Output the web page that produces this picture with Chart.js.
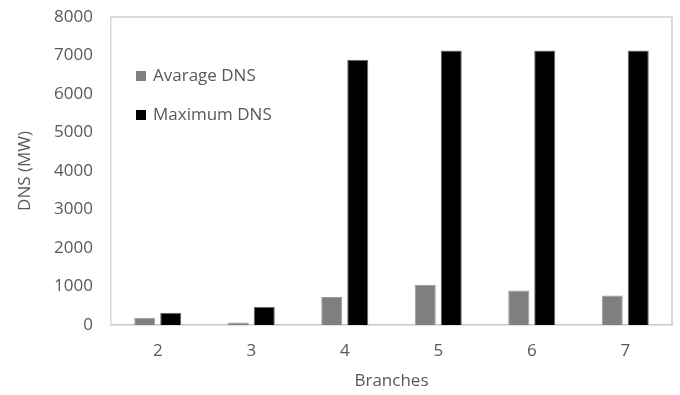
<!DOCTYPE html>
<html>
<head>
<meta charset="utf-8">
<script src="https://cdn.jsdelivr.net/npm/chart.js@4/dist/chart.umd.min.js"></script>
<style>
html,body{margin:0;padding:0;background:#fff;}
#wrap{width:680px;height:395px;position:relative;}
</style>
</head>
<body>
<div id="wrap"><canvas id="c" width="680" height="395"></canvas></div>
<script>
const categories = ['2', '3', '4', '5', '6', '7'];
const averageDNS = [190, 65, 730, 1045, 895, 765];
const maximumDNS = [315, 470, 6890, 7130, 7130, 7130];
const yTicks = [0, 1000, 2000, 3000, 4000, 5000, 6000, 7000, 8000];
const seriesNames = ['Avarage DNS', 'Maximum DNS'];

const FONT = "'Open Sans', 'Liberation Sans', sans-serif";
const TXT = '#595959';
const FS = 17;

const borderPlugin = {
  id: 'areaBorder',
  afterDraw(chart) {
    const a = chart.chartArea, ctx = chart.ctx;
    ctx.save();
    ctx.strokeStyle = '#d0d0d0';
    ctx.lineWidth = 1.5;
    ctx.beginPath();
    ctx.moveTo(a.left, a.top);
    ctx.lineTo(a.right, a.top);
    ctx.lineTo(a.right, a.bottom);
    ctx.stroke();
    ctx.restore();
  }
};

const legendPlugin = {
  id: 'innerLegend',
  afterDraw(chart) {
    const ctx = chart.ctx;
    ctx.save();
    ctx.font = FS + 'px ' + FONT;
    ctx.textBaseline = 'middle';
    chart.data.datasets.forEach((ds, i) => {
      const y = 76 + i * 39;
      ctx.fillStyle = ds.backgroundColor;
      ctx.fillRect(136, y - 5, 10, 10);
      ctx.fillStyle = TXT;
      ctx.fillText(ds.label, 153, y);
    });
    ctx.restore();
  }
};

new Chart(document.getElementById('c'), {
  type: 'bar',
  data: {
    labels: categories,
    datasets: [
      { label: seriesNames[0], data: averageDNS, backgroundColor: '#7f7f7f', borderColor: '#9a9a9a', borderWidth: 1 },
      { label: seriesNames[1], data: maximumDNS, backgroundColor: '#000000', borderColor: '#6a6a6a', borderWidth: 1 }
    ]
  },
  options: {
    responsive: false,
    animation: false,
    devicePixelRatio: 1,
    layout: { padding: { left: 0, right: 8, top: 17, bottom: 0 } },
    plugins: { legend: { display: false }, tooltip: { enabled: false } },
    datasets: { bar: { categoryPercentage: 0.556, barPercentage: 0.81 } },
    scales: {
      x: {
        grid: { display: false, drawTicks: false },
        border: { display: true, color: '#c8c8c8', width: 1.5 },
        ticks: { color: TXT, font: { family: FONT, size: FS }, padding: 16 },
        title: { display: true, text: 'Branches', color: TXT, font: { family: FONT, size: FS }, padding: { top: 8 } },
        afterFit(s) { s.height = 70; s.paddingLeft = 0; s.paddingRight = 0; }
      },
      y: {
        min: 0, max: 8000,
        afterBuildTicks(s) { s.ticks = yTicks.map(v => ({ value: v })); },
        grid: { display: false, drawTicks: false },
        border: { display: true, color: '#d9d9d9', width: 1.5 },
        ticks: { color: TXT, font: { family: FONT, size: FS }, padding: 18, callback: v => String(v) },
        title: { display: true, text: 'DNS (MW)', color: TXT, font: { family: FONT, size: FS }, padding: { top: 15, bottom: 4 } },
        afterFit(s) { s.width = 111; s.paddingTop = 0; s.paddingBottom = 0; }
      }
    }
  },
  plugins: [borderPlugin, legendPlugin]
});
</script>
</body>
</html>
